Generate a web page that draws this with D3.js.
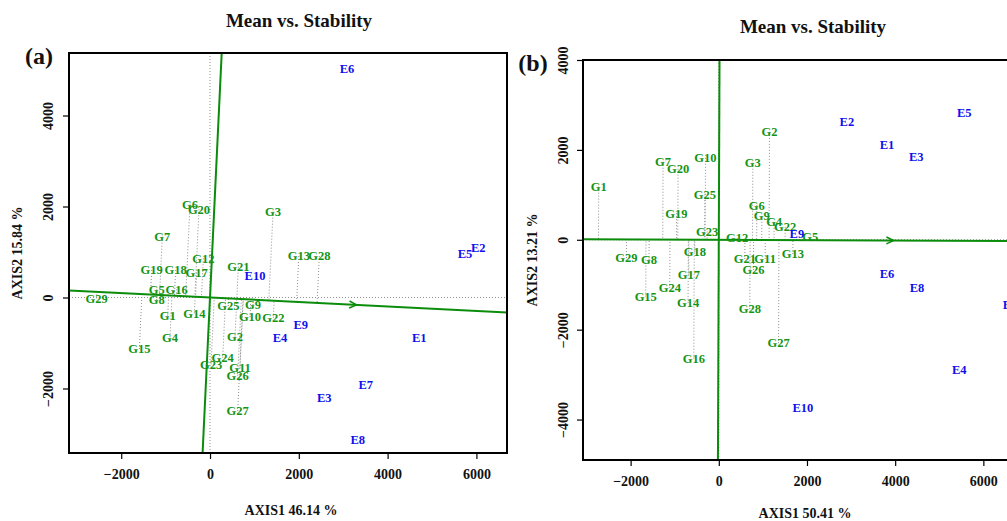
<!DOCTYPE html>
<html>
<head>
<meta charset="utf-8">
<script src="https://cdn.jsdelivr.net/npm/d3@7"></script>
<style>
  html, body { margin: 0; padding: 0; background: #fff; }
  svg { display: block; }
  text { font-family: "Liberation Serif", "DejaVu Serif", serif; font-weight: bold; }
</style>
</head>
<body>
<svg id="chart" width="1007" height="521"></svg>
<script>
// ---------------- DATA ----------------
const genotypes = ["G1","G2","G3","G4","G5","G6","G7","G8","G9","G10","G11","G12","G13","G14","G15",
                   "G16","G17","G18","G19","G20","G21","G22","G23","G24","G25","G26","G27","G28","G29"];
const environments = ["E1","E2","E3","E4","E5","E6","E7","E8","E9","E10"];

// Panel (a)
const gA_x = [-953, 563, 1420, -901, -1200, -450, -1074, -1200, 968, 901, 676, -151, 2000, -353, -1592,
              -750, -300, -773, -1313, -248, 638, 1426, 23, 286, 412, 624, 624, 2462, -2552];
const gA_y = [-400, -861, 1886, -875, 180, 2048, 1336, -55, -165, -429, -1543, 862, 912, -347, -1132,
              180, 545, 604, 604, 1938, 677, -444, -1468, -1323, -187, -1719, -2495, 912, -18];
const eA_x = [4714, 6042, 2574, 1577, 5743, 3086, 3507, 3327, 2043, 1014];
const eA_y = [-875, 1100, -2202, -875, 971, 5022, -1908, -3132, -589, 473];

// Panel (b)
const gB_x = [-2724, 1150, 772, 1255, 2072, 862, -1264, -1582, 976, -302, 1051, 415, 1680, -697, -1657,
              -567, -681, -545, -960, -924, 590, 1505, -265, -1112, -318, 787, 1355, 704, -2095];
const gB_y = [1182, 2401, 1714, 399, 67, 769, 1736, -450, 532, 1825, -428, 38, -317, -1404, -1264,
              -2645, -776, -266, 592, 1581, -428, 288, 184, -1071, 1013, -672, -2299, -1537, -406];
const eB_x = [3813, 2905, 4479, 5454, 5567, 3813, 6605, 4494, 1770, 1906];
const eB_y = [2106, 2639, 1847, -2889, 2823, -747, -1448, -1071, 126, -3732];

// Axis ticks and texts
const ticksA_x = [-2000, 0, 2000, 4000, 6000];
const ticksA_y = [-2000, 0, 2000, 4000];
const ticksB_x = [-2000, 0, 2000, 4000, 6000];
const ticksB_y = [-4000, -2000, 0, 2000, 4000];
const titles = ["Mean vs. Stability", "Mean vs. Stability"];
const panelTags = ["(a)", "(b)"];
const xTitles = ["AXIS1 46.14 %", "AXIS1 50.41 %"];
const yTitles = ["AXIS2 15.84 %", "AXIS2 13.21 %"];
// slope (AXIS2 per AXIS1) of the average-environment axis
const aecSlopes = [-0.049, -0.004];
const arrowAt = [3300, 3965];

// ---------------- DRAW ----------------
const svg = d3.select("#chart");
const GREEN = "#0b8c0b";
const GLABEL = "#149414";
const BLUE = "#1010ee";

function panel(cfg, idx) {
  const x = d3.scaleLinear().domain(cfg.xdom).range([cfg.left, cfg.right]);
  const y = d3.scaleLinear().domain(cfg.ydom).range([cfg.bottom, cfg.top]);
  const g = svg.append("g");
  const clipId = "clip" + idx;
  g.append("clipPath").attr("id", clipId).append("rect")
    .attr("x", cfg.left).attr("y", cfg.top)
    .attr("width", cfg.right - cfg.left).attr("height", cfg.bottom - cfg.top);
  const inner = g.append("g").attr("clip-path", `url(#${clipId})`);

  // reference dotted lines at 0
  inner.append("line").attr("x1", x(cfg.xdom[0])).attr("x2", x(cfg.xdom[1]))
    .attr("y1", y(0)).attr("y2", y(0))
    .attr("stroke", "#8f8f8f").attr("stroke-width", 1).attr("stroke-dasharray", "1,2");
  inner.append("line").attr("y1", y(cfg.ydom[0])).attr("y2", y(cfg.ydom[1]))
    .attr("x1", x(0)).attr("x2", x(0))
    .attr("stroke", "#8f8f8f").attr("stroke-width", 1).attr("stroke-dasharray", "1,2");

  const s = cfg.slope;
  // projection of genotypes on the AEC abscissa
  const gx = cfg.gx, gy = cfg.gy;
  genotypes.forEach((name, i) => {
    const t = (gx[i] + s * gy[i]) / (1 + s * s);
    inner.append("line")
      .attr("x1", x(gx[i])).attr("y1", y(gy[i]))
      .attr("x2", x(t)).attr("y2", y(t * s))
      .attr("stroke", "#8f8f8f").attr("stroke-width", 1).attr("stroke-dasharray", "1,2");
  });

  // AEC abscissa and ordinate
  const big = 20000;
  inner.append("line")
    .attr("x1", x(-big)).attr("y1", y(-big * s))
    .attr("x2", x(big)).attr("y2", y(big * s))
    .attr("stroke", GREEN).attr("stroke-width", 2);
  inner.append("line")
    .attr("x1", x(big * s)).attr("y1", y(-big))
    .attr("x2", x(-big * s)).attr("y2", y(big))
    .attr("stroke", GREEN).attr("stroke-width", 2);

  // arrow head
  const ax = x(cfg.arrow), ay = y(cfg.arrow * s);
  const ang = Math.atan2(y(s * 1000) - y(0), x(1000) - x(0));
  const L = 8, spread = 0.45;
  inner.append("path")
    .attr("d", `M${ax - L * Math.cos(ang - spread)},${ay - L * Math.sin(ang - spread)} L${ax},${ay} L${ax - L * Math.cos(ang + spread)},${ay - L * Math.sin(ang + spread)}`)
    .attr("fill", "none").attr("stroke", GREEN).attr("stroke-width", 1.5);

  // labels
  inner.selectAll(".gl").data(genotypes).enter().append("text")
    .attr("x", (d, i) => x(gx[i])).attr("y", (d, i) => y(gy[i]))
    .attr("dy", "0.35em").attr("text-anchor", "middle")
    .attr("font-size", 12.5).attr("fill", GLABEL).text(d => d);
  inner.selectAll(".el").data(environments).enter().append("text")
    .attr("x", (d, i) => x(cfg.ex[i])).attr("y", (d, i) => y(cfg.ey[i]))
    .attr("dy", "0.35em").attr("text-anchor", "middle")
    .attr("font-size", 12.5).attr("fill", BLUE).text(d => d);

  // box
  g.append("rect").attr("x", cfg.left).attr("y", cfg.top)
    .attr("width", cfg.right - cfg.left).attr("height", cfg.bottom - cfg.top)
    .attr("fill", "none").attr("stroke", "#000").attr("stroke-width", 2);

  // axes
  const xa = d3.axisBottom(x).tickValues(cfg.xticks).tickSize(6).tickPadding(10).tickFormat(d3.format("d"));
  const xg = g.append("g").attr("transform", `translate(0,${cfg.bottom})`).call(xa);
  xg.select(".domain").remove();
  xg.selectAll("line").attr("stroke", "#000").attr("stroke-width", 1.2);
  xg.selectAll("text").attr("font-size", 14).attr("font-family", "Liberation Serif")
    .attr("font-weight", "bold").attr("fill", "#111").text(d => d < 0 ? "\u2212" + Math.abs(d) : d);

  const ya = d3.axisLeft(y).tickValues(cfg.yticks).tickSize(6).tickPadding(0).tickFormat(d3.format("d"));
  const yg = g.append("g").attr("transform", `translate(${cfg.left},0)`).call(ya);
  yg.select(".domain").remove();
  yg.selectAll("line").attr("stroke", "#000").attr("stroke-width", 1.2);
  yg.selectAll("text").remove();
  yg.selectAll(".tick").append("text")
    .attr("transform", `translate(${-cfg.ytickOff},0) rotate(-90)`)
    .attr("text-anchor", "middle").attr("dy", "0.35em")
    .attr("font-size", 14).attr("fill", "#111")
    .text(d => d < 0 ? "\u2212" + Math.abs(d) : d);

  // titles
  svg.append("text").attr("x", cfg.titleX).attr("y", cfg.titleY).attr("text-anchor", "middle")
    .attr("dy", "0.35em").attr("font-size", 19).attr("fill", "#111").text(titles[idx]);
  svg.append("text").attr("x", cfg.tagX).attr("y", cfg.tagY).attr("text-anchor", "middle")
    .attr("dy", "0.35em").attr("font-size", 24).attr("fill", "#111").text(panelTags[idx]);
  svg.append("text").attr("x", cfg.xtX).attr("y", cfg.xtY).attr("text-anchor", "middle")
    .attr("dy", "0.35em").attr("font-size", 14).attr("fill", "#111").text(xTitles[idx]);
  svg.append("text").attr("transform", `translate(${cfg.ytX},${(cfg.top + cfg.bottom) / 2}) rotate(-90)`)
    .attr("text-anchor", "middle").attr("dy", "0.35em")
    .attr("font-size", 14).attr("fill", "#111").text(yTitles[idx]);
}

panel({
  left: 69, right: 507, top: 53, bottom: 453,
  xdom: [-3176, 6689], ydom: [-3418, 5374],
  gx: gA_x, gy: gA_y, ex: eA_x, ey: eA_y,
  xticks: ticksA_x, yticks: ticksA_y,
  slope: aecSlopes[0], arrow: arrowAt[0],
  ytickOff: 21, titleX: 299, titleY: 20, tagX: 39, tagY: 56,
  xtX: 291, xtY: 510, ytX: 17
}, 0);

panel({
  left: 583, right: 1017, top: 60, bottom: 460,
  xdom: [-3080, 6763], ydom: [-4900, 4000],
  gx: gB_x, gy: gB_y, ex: eB_x, ey: eB_y,
  xticks: ticksB_x, yticks: ticksB_y,
  slope: aecSlopes[1], arrow: arrowAt[1],
  ytickOff: 20, titleX: 813, titleY: 26, tagX: 533, tagY: 63,
  xtX: 805, xtY: 513, ytX: 532
}, 1);
</script>
</body>
</html>
